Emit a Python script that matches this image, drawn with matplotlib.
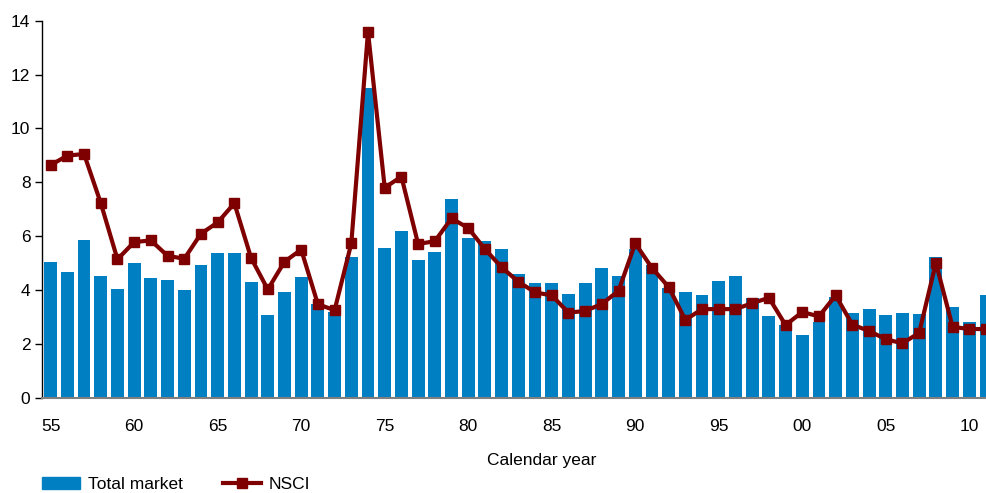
import matplotlib.pyplot as plt
import numpy as np
from matplotlib.lines import Line2D
from matplotlib.patches import Patch

plt.rcParams['font.family'] = ['Liberation Sans', 'DejaVu Sans']

# Années 1955 -> 2011
years = list(range(1955, 2012))
total_market = [5.03, 4.67, 5.86, 4.52, 4.04, 5.00, 4.45, 4.37, 4.00, 4.93,
                5.37, 5.37, 4.30, 3.07, 3.93, 4.48, 3.48, 3.18, 5.22, 11.50,
                5.56, 6.19, 5.11, 5.41, 7.38, 5.93, 5.82, 5.52, 4.59, 4.26,
                4.26, 3.85, 4.26, 4.82, 4.52, 5.52, 4.93, 4.07, 3.93, 3.82,
                4.33, 4.52, 3.70, 3.03, 2.70, 2.33, 2.81, 3.74, 3.15, 3.29,
                3.07, 3.15, 3.11, 5.22, 3.37, 2.81, 3.82]
nsci = [8.64, 8.99, 9.05, 7.23, 5.14, 5.78, 5.84, 5.27, 5.16, 6.09,
        6.51, 7.22, 5.19, 4.02, 5.05, 5.50, 3.47, 3.25, 5.73, 13.59,
        7.80, 8.21, 5.71, 5.81, 6.66, 6.30, 5.52, 4.84, 4.31, 3.91,
        3.80, 3.16, 3.22, 3.48, 3.97, 5.73, 4.82, 4.11, 2.89, 3.29,
        3.29, 3.29, 3.51, 3.71, 2.70, 3.18, 3.02, 3.80, 2.71, 2.48,
        2.17, 2.02, 2.41, 5.01, 2.63, 2.55, 2.55]
tick_labels = ['55', '60', '65', '70', '75', '80', '85', '90', '95', '00', '05', '10']

x = np.arange(len(years))

fig = plt.figure(figsize=(9.86, 4.93), dpi=100)
ax = fig.add_axes([0.0429, 0.1933, 0.9571, 0.7647])

ax.bar(x, total_market, width=0.77, color='#0080C3', zorder=2)
ax.plot(x, nsci, color='#7F0000', linewidth=3, marker='s', markersize=6.5, zorder=3)

ax.set_xlim(-0.5, 56.0)
ax.set_ylim(0, 14)
ax.set_yticks(range(0, 15, 2))
ax.set_xticks(x[::5])
ax.set_xticklabels(tick_labels)
ax.tick_params(axis='x', length=0, pad=15, labelsize=12.5)
ax.tick_params(axis='y', length=5, width=1, direction='out', labelsize=12.5)

for s in ['top', 'right']:
    ax.spines[s].set_visible(False)
ax.spines['bottom'].set_color('#7f7f7f')
ax.spines['bottom'].set_linewidth(1.5)
ax.spines['left'].set_linewidth(1)

fig.text(542 / 986, 1 - 460 / 493, 'Calendar year', ha='center', va='center', fontsize=12.5)

handles = [Patch(color='#0080C3'),
           Line2D([0], [0], color='#7F0000', linewidth=3, marker='s', markersize=6.5)]
fig.legend(handles, ['Total market', 'NSCI'], loc='lower left', ncol=2,
           bbox_to_anchor=(0.027, -0.03), frameon=False, fontsize=12.5,
           handlelength=2.2, handletextpad=0.45, columnspacing=2.3)

plt.savefig('out.png', dpi=100)
